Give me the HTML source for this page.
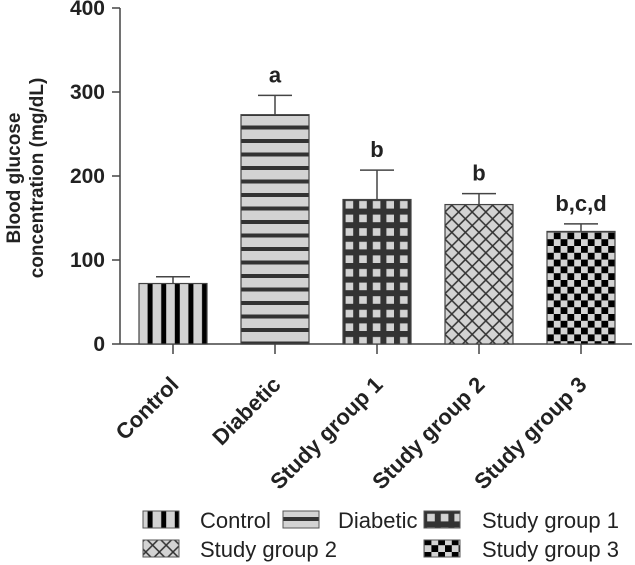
<!DOCTYPE html>
<html><head><meta charset="utf-8"><style>
body{margin:0;background:#fff}
svg{display:block;font-family:"Liberation Sans",Arial,sans-serif}
.b{font-weight:bold;font-size:22px;fill:#222}
.k{font-weight:bold;font-size:21px;fill:#222}
.t{font-weight:bold;font-size:19px;fill:#222}
.lg{font-size:22px;fill:#222}
</style></head><body>
<svg id="chart" width="635" height="565" viewBox="0 0 635 565" xmlns="http://www.w3.org/2000/svg">
<defs>
<pattern id="p0" patternUnits="userSpaceOnUse" x="139" y="0" width="13.6" height="10"><rect width="13.6" height="10" fill="#d3d3d3"/><rect x="8.6" width="5" height="10" fill="#000"/></pattern>
<pattern id="p1" patternUnits="userSpaceOnUse" x="0" y="8" width="10" height="13.5"><rect width="10" height="13.5" fill="#d3d3d3"/><rect y="9.5" width="10" height="4" fill="#333"/></pattern>
<pattern id="p2" patternUnits="userSpaceOnUse" x="343" y="8" width="13.6" height="13.6"><rect width="13.6" height="13.6" fill="#333"/><rect x="2.6" y="2.6" width="7.6" height="7.6" fill="#d3d3d3"/></pattern>
<pattern id="p3" patternUnits="userSpaceOnUse" x="445" y="8" width="13.6" height="13.6"><rect width="13.6" height="13.6" fill="#d3d3d3"/><path d="M0 0L13.6 13.6M13.6 0L0 13.6" stroke="#333" stroke-width="1.5"/></pattern>
<pattern id="p4" patternUnits="userSpaceOnUse" x="547" y="8" width="13.6" height="13.6"><rect width="13.6" height="13.6" fill="#d3d3d3"/><rect width="6.8" height="6.8" fill="#000"/><rect x="6.8" y="6.8" width="6.8" height="6.8" fill="#000"/></pattern>
</defs>
<g id="plot"></g>
</svg>
<script>
const categories=["Control","Diabetic","Study group 1","Study group 2","Study group 3"];
const means=[72,273,172,166,134];
const errors=[8,23,35,13,9];
const sigLabels=["","a","b","b","b,c,d"];
const yTicks=[0,100,200,300,400];
const NS="http://www.w3.org/2000/svg";
const g=document.getElementById('plot');
const y0=344,yTop=8,yMax=400;
const yS=v=>y0-(v/yMax)*(y0-yTop);
const xC=i=>173+i*102;
const bw=68;
function mk(t,a,txt){const e=document.createElementNS(NS,t);for(const k in a)e.setAttribute(k,a[k]);if(txt!==undefined)e.textContent=txt;g.appendChild(e);return e;}
let e=mk('line',{x1:120,y1:yTop,x2:120,y2:y0,stroke:'#444','stroke-width':1.5});


e=mk('line',{x1:120,y1:y0,x2:632,y2:y0,stroke:'#444','stroke-width':1.5});


yTicks.forEach(v=>{
 const t=mk('line',{x1:112,y1:yS(v),x2:120,y2:yS(v),stroke:'#444','stroke-width':1.5});
 
 
 const l=mk('text',{x:105,y:yS(v)+7,'text-anchor':'end','class':'k'},v);
 
 
});
const ttl=mk('text',{transform:'translate(20,178) rotate(-90)','text-anchor':'middle','class':'t'});


ttl.innerHTML='<tspan x="0" dy="0">Blood glucose</tspan><tspan x="0" dy="23">concentration (mg/dL)</tspan>';
categories.forEach((c,i)=>{
 const x=xC(i)-bw/2,top=yS(means[i]),et=yS(means[i]+errors[i]);
 const el=mk('line',{x1:xC(i),y1:top,x2:xC(i),y2:et,stroke:'#444','stroke-width':1.5});
 
 
 const cap=mk('line',{x1:xC(i)-17,y1:et,x2:xC(i)+17,y2:et,stroke:'#444','stroke-width':1.5});
 
 
 const b=mk('rect',{x:x,y:top,width:bw,height:y0-top,fill:'url(#p'+i+')',stroke:'#444','stroke-width':1.2});
 
 
 if(sigLabels[i]){const s=mk('text',{x:xC(i),y:et-13,'text-anchor':'middle','class':'b'},sigLabels[i]);
 
 }
 const tk=mk('line',{x1:xC(i),y1:y0,x2:xC(i),y2:y0+10,stroke:'#444','stroke-width':1.5});
 
 
 const lb=mk('text',{transform:'translate('+(xC(i)+7)+','+(y0+42)+') rotate(-45)','text-anchor':'end','class':'b'},c);
 
 
});
const leg=[[143,511,'Control',200],[283,511,'Diabetic',338],[424,511,'Study group 1',482],[143,540,'Study group 2',200],[424,540,'Study group 3',482]];
leg.forEach((L,i)=>{
 const sw=mk('rect',{x:L[0],y:L[1],width:36,height:17,fill:'url(#p'+i+')',stroke:'#555','stroke-width':1});
 
 
 const t=mk('text',{x:L[3],y:L[1]+17,'class':'lg'},L[2]);
 
 
});
</script>
</body></html>
